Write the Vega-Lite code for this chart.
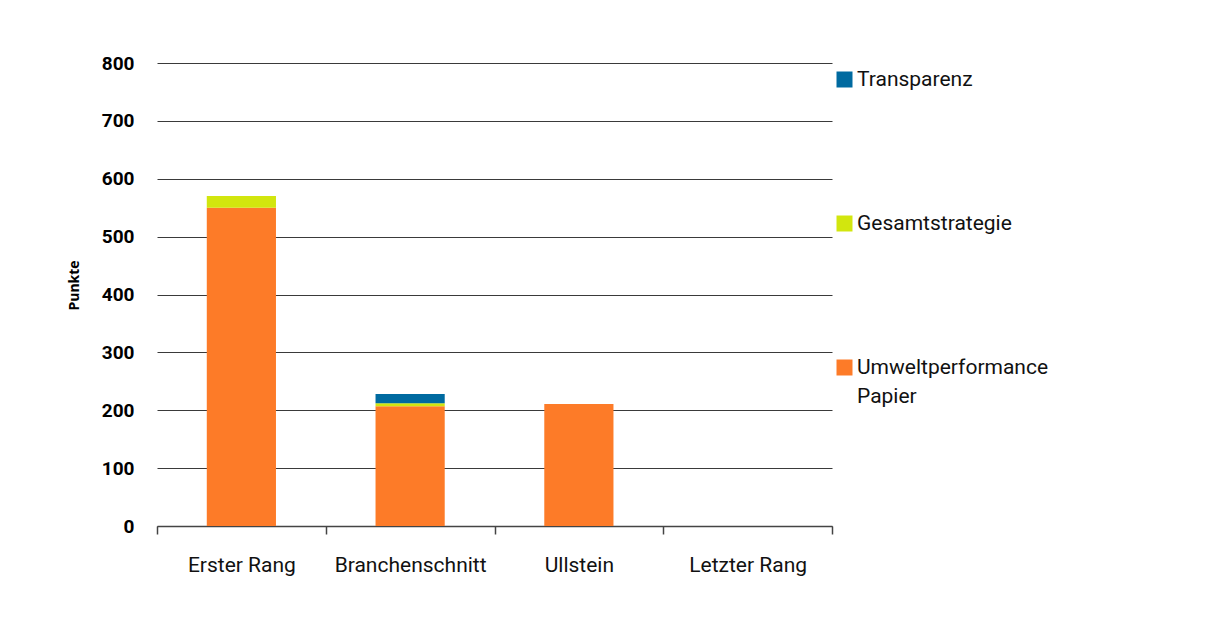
{
  "$schema": "https://vega.github.io/schema/vega-lite/v6.json",
  "autosize": "none",
  "width": 675,
  "height": 463,
  "padding": {"left": 157, "top": 63, "right": 395, "bottom": 91},
  "background": "white",
  "data": {
    "values": [
      {"Rang": "Erster Rang", "Kategorie": "Umweltperformance Papier", "Punkte": 550},
      {"Rang": "Erster Rang", "Kategorie": "Gesamtstrategie", "Punkte": 20},
      {"Rang": "Erster Rang", "Kategorie": "Transparenz", "Punkte": 0},
      {"Rang": "Branchenschnitt", "Kategorie": "Umweltperformance Papier", "Punkte": 207},
      {"Rang": "Branchenschnitt", "Kategorie": "Gesamtstrategie", "Punkte": 5},
      {"Rang": "Branchenschnitt", "Kategorie": "Transparenz", "Punkte": 16},
      {"Rang": "Ullstein", "Kategorie": "Umweltperformance Papier", "Punkte": 211},
      {"Rang": "Ullstein", "Kategorie": "Gesamtstrategie", "Punkte": 0},
      {"Rang": "Ullstein", "Kategorie": "Transparenz", "Punkte": 0},
      {"Rang": "Letzter Rang", "Kategorie": "Umweltperformance Papier", "Punkte": 0},
      {"Rang": "Letzter Rang", "Kategorie": "Gesamtstrategie", "Punkte": 0},
      {"Rang": "Letzter Rang", "Kategorie": "Transparenz", "Punkte": 0}
    ]
  },
  "transform": [
    {"calculate": "indexof(['Umweltperformance Papier','Gesamtstrategie','Transparenz'], datum.Kategorie)", "as": "stackOrder"}
  ],
  "mark": {"type": "bar", "width": {"band": 0.41}},
  "encoding": {
    "x": {
      "field": "Rang",
      "type": "nominal",
      "sort": ["Erster Rang", "Branchenschnitt", "Ullstein", "Letzter Rang"],
      "scale": {"paddingInner": 0, "paddingOuter": 0},
      "axis": {
        "title": null,
        "labelAngle": 0,
        "labelFont": "Roboto",
        "labelFontSize": 21,
        "labelColor": "#111111",
        "labelPadding": 20,
        "ticks": true,
        "tickSize": 8,
        "tickColor": "#444444",
        "tickWidth": 1.5,
        "tickBand": "extent",
        "domainColor": "#444444",
        "domainWidth": 1.5,
        "grid": false
      }
    },
    "y": {
      "field": "Punkte",
      "type": "quantitative",
      "stack": "zero",
      "scale": {"domain": [0, 800]},
      "axis": {
        "title": "Punkte",
        "titleFont": "Open Sans",
        "titleFontSize": 14,
        "titleFontWeight": "bold",
        "titleColor": "#000000",
        "titlePadding": 20,
        "titleY": 222,
        "values": [0, 100, 200, 300, 400, 500, 600, 700, 800],
        "labelFont": "Roboto",
        "labelFontSize": 19,
        "labelFontWeight": "bold",
        "labelColor": "#000000",
        "labelPadding": 23,
        "ticks": false,
        "domain": false,
        "grid": true,
        "gridColor": "#3a3a3a",
        "gridWidth": 1
      }
    },
    "color": {
      "field": "Kategorie",
      "type": "nominal",
      "scale": {
        "domain": ["Transparenz", "Gesamtstrategie", "Umweltperformance Papier"],
        "range": ["#006aa0", "#d2e60e", "#fd7b28"]
      },
      "legend": {
        "title": null,
        "orient": "none",
        "legendX": 677,
        "legendY": 6,
        "symbolType": "square",
        "symbolSize": 256,
        "symbolStrokeWidth": 0,
        "symbolOpacity": 1,
        "labelFont": "Roboto",
        "labelFontSize": 21,
        "labelColor": "#111111",
        "labelOffset": 2,
        "labelLimit": 300,
        "rowPadding": 122,
        "labelExpr": "datum.label == 'Umweltperformance Papier' ? ['Umweltperformance', 'Papier'] : datum.label"
      }
    },
    "order": {"field": "stackOrder", "type": "quantitative"}
  },
  "config": {
    "view": {"stroke": null},
    "bar": {"stroke": null},
    "style": {"guide-label": {"lineHeight": 29}}
  }
}
